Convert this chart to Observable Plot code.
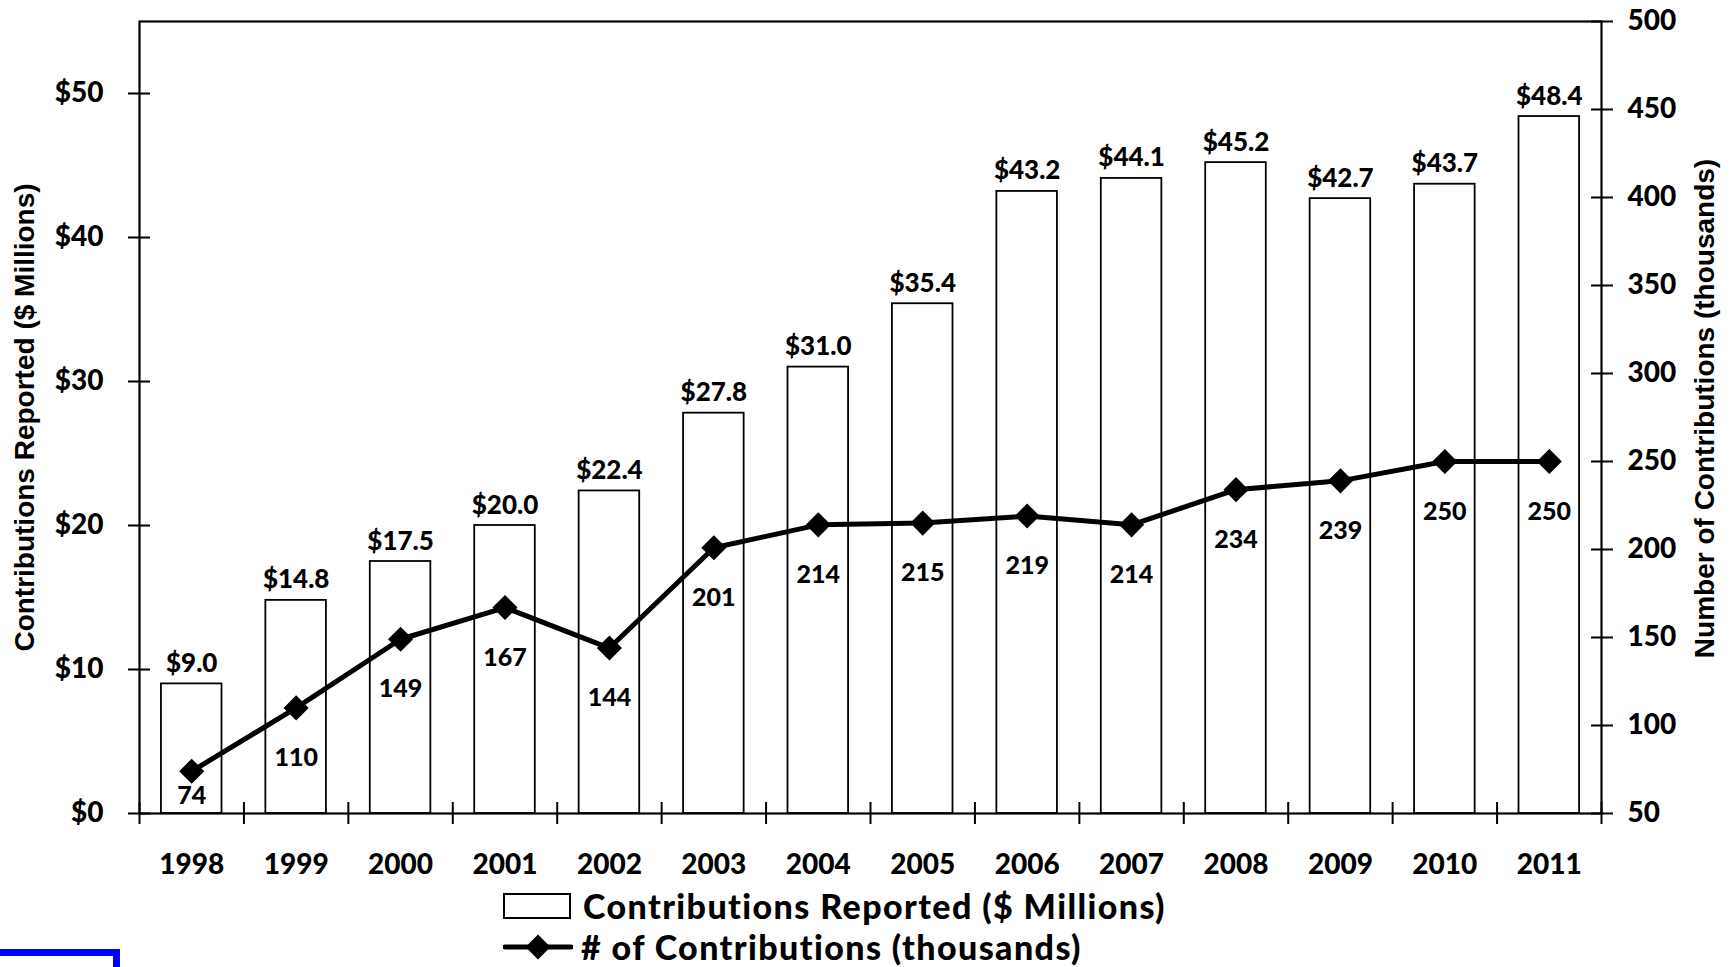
<!DOCTYPE html>
<html>
<head>
<meta charset="utf-8">
<script src="https://cdn.jsdelivr.net/npm/d3@7"></script>
<script src="https://cdn.jsdelivr.net/npm/@observablehq/plot@0.6"></script>
<style>
  html, body { margin: 0; padding: 0; background: #fff; overflow: hidden; }
  #page { position: relative; width: 1730px; height: 967px; font-family: Lato, "Open Sans", sans-serif; font-weight: 900; color: #000; }
  #chart svg { display: block; }
  .legend-row { position: absolute; left: 503px; height: 38px; display: flex; align-items: center; font-size: 34px; letter-spacing: 1.4px; line-height: 38px; white-space: nowrap; }
  .legend-row svg { display: block; flex: none; }
  #corner { position: absolute; left: -10px; top: 949px; width: 130px; height: 40px; border: 7px solid #0000ff; box-sizing: border-box; }
</style>
</head>
<body>
<div id="page">
  <div id="chart"></div>
  <div class="legend-row" id="legend-bars" style="top:887px"></div>
  <div class="legend-row" id="legend-line" style="top:928px"></div>
  <div id="corner"></div>
</div>
<script>
// Yearly contributions: dollar amount (left axis) and count (right axis)
const years = ["1998", "1999", "2000", "2001", "2002", "2003", "2004", "2005", "2006", "2007", "2008", "2009", "2010", "2011"];
const contributionsMillions = [9.0, 14.8, 17.5, 20.0, 22.4, 27.8, 31.0, 35.4, 43.2, 44.1, 45.2, 42.7, 43.7, 48.4];
const contributionsThousands = [74, 110, 149, 167, 144, 201, 214, 215, 219, 214, 234, 239, 250, 250];
const leftTicks = [0, 10, 20, 30, 40, 50];
const rightTicks = [50, 100, 150, 200, 250, 300, 350, 400, 450, 500];
const leftDomain = [0, 55];
const rightDomain = [50, 500];
const barLegendLabel = "Contributions Reported ($ Millions)";
const lineLegendLabel = "# of Contributions (thousands)";
const leftTitle = "Contributions Reported ($ Millions)";
const rightTitle = "Number of Contributions (thousands)";

const W = 1730, H = 880;
const mL = 139, mR = 129, mT = 21, mB = 67;
const step = (W - mL - mR) / years.length;
const pxPerUnit = (H - mT - mB) / (leftDomain[1] - leftDomain[0]);

// map the right-axis (thousands) scale onto the left-axis (millions) scale
const toLeft = v => leftDomain[0] + (v - rightDomain[0]) / (rightDomain[1] - rightDomain[0]) * (leftDomain[1] - leftDomain[0]);
const toRight = v => rightDomain[0] + (v - leftDomain[0]) / (leftDomain[1] - leftDomain[0]) * (rightDomain[1] - rightDomain[0]);

const rows = years.map((year, i) => ({year, amount: contributionsMillions[i], count: contributionsThousands[i]}));

// count labels sit below each marker, kept clear of the baseline
const countLabelY = d => Math.max(toLeft(d.count) - 58 / pxPerUnit, 10 / pxPerUnit);

const tickStyle = {stroke: "black", strokeWidth: 2, fill: "none", label: null};
const heavy = 900;
const titleFont = "'Liberation Sans', Arial, sans-serif";

const chart = Plot.plot({
  width: W,
  height: H,
  marginLeft: mL,
  marginRight: mR,
  marginTop: mT,
  marginBottom: mB,
  style: {fontFamily: "Lato, 'Open Sans', sans-serif", fontWeight: heavy, color: "#000", background: "#fff", overflow: "visible"},
  x: {type: "band", domain: years, paddingInner: 0.42, paddingOuter: 0.21, round: false},
  y: {domain: leftDomain},
  marks: [
    Plot.barY(rows, {x: "year", y: "amount", fill: "white", stroke: "black", strokeWidth: 1.8}),
    Plot.text(rows, {x: "year", y: "amount", text: d => "$" + d.amount.toFixed(1), dy: -12, lineAnchor: "bottom", fontSize: 26, fontWeight: heavy, fill: "black"}),
    Plot.line(rows, {x: "year", y: d => toLeft(d.count), stroke: "black", strokeWidth: 5, strokeLinejoin: "round"}),
    Plot.dot(rows, {x: "year", y: d => toLeft(d.count), symbol: "diamond2", r: 11.3, fill: "black", stroke: "none"}),
    Plot.text(rows, {x: "year", y: countLabelY, text: d => String(d.count), lineAnchor: "bottom", fontSize: 25, fontWeight: heavy, fill: "black"}),
    Plot.frame({stroke: "black", strokeWidth: 2.2}),

    // left axis: ticks crossing the axis line, then labels
    Plot.axisY(leftTicks, {anchor: "left", tickSize: 22, insetLeft: 11, ...tickStyle}),
    Plot.axisY(leftTicks, {anchor: "left", tickSize: 0, tickPadding: 36, tickFormat: d => "$" + d, fontSize: 28, fontWeight: heavy, fill: "black", label: null}),

    // right axis (thousands)
    Plot.axisY(rightTicks.map(toLeft), {anchor: "right", tickSize: 22, insetRight: 11, ...tickStyle}),
    Plot.axisY(rightTicks.map(toLeft), {anchor: "right", tickSize: 0, tickPadding: 26, tickFormat: d => String(Math.round(toRight(d))), fontSize: 28, fontWeight: heavy, fill: "black", label: null}),

    // x axis: year labels centred, ticks on the category boundaries
    Plot.axisX({tickSize: 0, tickPadding: 41, fontSize: 28, fontWeight: heavy, fill: "black", label: null}),
    Plot.axisX(years, {tickSize: 22, insetBottom: 11, dx: -step / 2, ...tickStyle}),
    Plot.axisX([years[years.length - 1]], {tickSize: 22, insetBottom: 11, dx: step / 2, ...tickStyle}),

    // axis titles
    Plot.text([leftTitle], {frameAnchor: "left", text: d => d, rotate: -90, textAnchor: "middle", lineAnchor: "middle", dx: -114, dy: 0, fontSize: 28, fontWeight: "bold", fontFamily: titleFont, fill: "black"}),
    Plot.text([rightTitle], {frameAnchor: "right", text: d => d, rotate: -90, textAnchor: "middle", lineAnchor: "middle", dx: 104, dy: -9, fontSize: 28, fontWeight: "bold", fontFamily: titleFont, fill: "black"})
  ]
});
document.getElementById("chart").append(chart);

// legend below the chart
function swatchBar() {
  const s = d3.create("svg").attr("width", 68).attr("height", 28);
  s.append("rect").attr("x", 1).attr("y", 2).attr("width", 66).attr("height", 24).attr("fill", "white").attr("stroke", "black").attr("stroke-width", 2);
  return s.node();
}
function swatchLine() {
  const s = d3.create("svg").attr("width", 70).attr("height", 28);
  s.append("line").attr("x1", 2).attr("x2", 68).attr("y1", 14).attr("y2", 14).attr("stroke", "black").attr("stroke-width", 5).attr("stroke-linecap", "round");
  s.append("path").attr("transform", "translate(35,14)").attr("d", d3.symbol(d3.symbolDiamond2, Math.pow(12.5 / 0.62625, 2))()).attr("fill", "black");
  return s.node();
}
const lb = document.getElementById("legend-bars");
lb.append(swatchBar());
const t1 = document.createElement("span"); t1.textContent = barLegendLabel; t1.style.marginLeft = "12px"; lb.append(t1);
const ll = document.getElementById("legend-line");
ll.append(swatchLine());
const t2 = document.createElement("span"); t2.textContent = lineLegendLabel; t2.style.marginLeft = "8px"; ll.append(t2);
</script>
</body>
</html>
